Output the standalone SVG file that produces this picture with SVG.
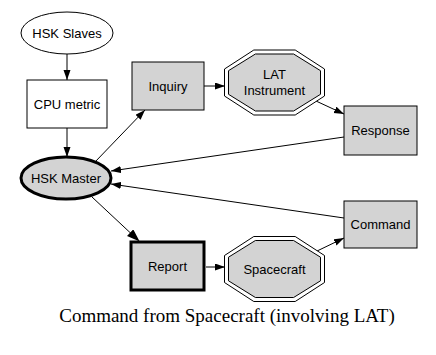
<svg xmlns="http://www.w3.org/2000/svg" width="436" height="355" viewBox="0 0 436 355">
<style>
.n{fill:#ffffff;stroke:#000;stroke-width:1}
.g{fill:#d3d3d3;stroke:#000;stroke-width:1}
.thick{stroke-width:3}
.t{font-family:"Liberation Sans",Arial,sans-serif;font-size:13px;fill:#000;text-anchor:middle}
.e{fill:none;stroke:#000;stroke-width:1}
.title{font-family:"Liberation Serif","Times New Roman",serif;font-size:19px;fill:#000;text-anchor:middle}
</style>
<defs>
<marker id="ah" markerUnits="userSpaceOnUse" markerWidth="11" markerHeight="8" refX="10" refY="3.5" orient="auto">
<path d="M0,0 L10,3.5 L0,7 z" fill="#000"/>
</marker>
<marker id="ahb" markerUnits="userSpaceOnUse" markerWidth="13" markerHeight="10" refX="11" refY="4.5" orient="auto">
<path d="M1,1 L11,4.5 L1,8 z" fill="#000" stroke="#000" stroke-width="1.5"/>
</marker>
</defs>
<rect width="436" height="355" fill="#fff"/>
<g id="edges">
<line class="e" x1="67" y1="54" x2="67" y2="80" marker-end="url(#ah)"/>
<line class="e" x1="67" y1="128" x2="67" y2="157" marker-end="url(#ah)"/>
<line class="e" x1="95" y1="162" x2="145" y2="110" marker-end="url(#ah)"/>
<line class="e" x1="204" y1="86" x2="225" y2="86" marker-end="url(#ah)"/>
<line class="e" x1="316" y1="101" x2="344" y2="114" marker-end="url(#ah)"/>
<line class="e" x1="344" y1="137" x2="111" y2="171" marker-end="url(#ah)"/>
<line class="e" x1="344" y1="218" x2="111" y2="184" marker-end="url(#ah)"/>
<line class="e" x1="92" y1="197" x2="138" y2="240" stroke-width="2" marker-end="url(#ahb)"/>
<line class="e" x1="206" y1="267" x2="225" y2="267" marker-end="url(#ah)"/>
<line class="e" x1="315" y1="252" x2="344" y2="238" marker-end="url(#ah)"/>
</g>
<g id="hsk_slaves">
<ellipse class="n" cx="67" cy="33" rx="46" ry="21"/>
<text class="t" x="67" y="37.5">HSK Slaves</text>
</g>
<g id="cpu_metric">
<rect class="n" x="27" y="80" width="80" height="48"/>
<text class="t" x="67" y="108.5">CPU metric</text>
</g>
<g id="hsk_master">
<ellipse class="g thick" cx="66" cy="178" rx="45" ry="21"/>
<text class="t" x="66" y="182.5">HSK Master</text>
</g>
<g id="inquiry">
<rect class="g" x="132" y="62" width="72" height="48"/>
<text class="t" x="168" y="90.5">Inquiry</text>
</g>
<g id="lat_instrument">
<polygon class="n" points="324.5,69 324.5,96 295.2,115 253.8,115 224.5,96 224.5,69 253.8,50 295.2,50"/>
<polygon class="g" points="320.5,70.7 320.5,94.3 293.6,111 255.4,111 228.5,94.3 228.5,70.7 255.4,54 293.6,54"/>
<text class="t" x="274.5" y="79">LAT</text>
<text class="t" x="274.5" y="95">Instrument</text>
</g>
<g id="response">
<rect class="g" x="344" y="106" width="73" height="49"/>
<text class="t" x="380.5" y="135">Response</text>
</g>
<g id="command">
<rect class="g" x="344" y="201" width="73" height="47"/>
<text class="t" x="380.5" y="229">Command</text>
</g>
<g id="report">
<rect class="g thick" x="131" y="242" width="73" height="48"/>
<text class="t" x="167.5" y="270.5">Report</text>
</g>
<g id="spacecraft">
<polygon class="n" points="324.5,255.5 324.5,282.5 295.2,301.5 253.8,301.5 224.5,282.5 224.5,255.5 253.8,236.5 295.2,236.5"/>
<polygon class="g" points="320.5,257.2 320.5,280.8 293.6,297.5 255.4,297.5 228.5,280.8 228.5,257.2 255.4,240.5 293.6,240.5"/>
<text class="t" x="274.5" y="273.5">Spacecraft</text>
</g>
<text class="title" x="227" y="322">Command from Spacecraft (involving LAT)</text>
</svg>
